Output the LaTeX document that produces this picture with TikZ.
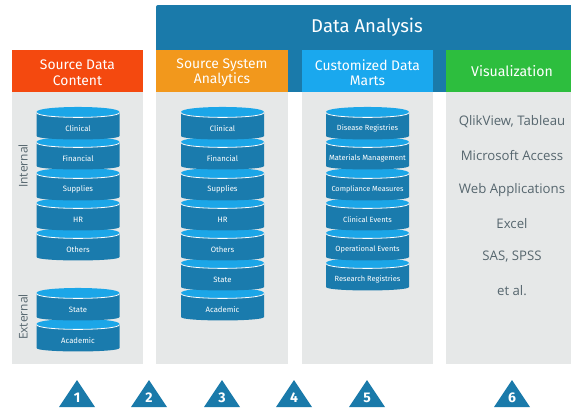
\documentclass[tikz,border=0pt]{standalone}
\usepackage{fontspec}
\setmainfont{Fira Sans}
\newfontfamily\vizfont{Open Sans}
\definecolor{bandblue}{HTML}{1A7AAA}
\definecolor{cylblue}{HTML}{1A7BAD}
\definecolor{cyltop}{HTML}{1BA6E8}
\definecolor{redhead}{HTML}{F4490F}
\definecolor{orangehead}{HTML}{F2981C}
\definecolor{skyhead}{HTML}{1AA8EE}
\definecolor{greenhead}{HTML}{2DBE3E}
\definecolor{panelgray}{HTML}{E6E8E8}
\definecolor{txtgray}{HTML}{56666E}
\tikzset{
  headtext/.style={text=white,font=\fontsize{10.4}{11.6}\selectfont,align=center},
  cyltext/.style={text=white,font=\fontsize{#1}{7}\selectfont},
  vizlabel/.style={text=txtgray,font=\vizfont\fontsize{9.9}{11}\selectfont},
  sidelabel/.style={text=txtgray,font=\vizfont\fontsize{9}{11}\selectfont,rotate=90},
  tri/.style={fill=bandblue},
  trinum/.style={text=white,font=\fontsize{10.5}{12}\selectfont\bfseries}
}
% x centre, label centre y, label, font size
\newcommand{\onecyl}[4]{%
  \fill[cylblue] (#1-41.5,#2-16) -- (#1-41.5,#2+8) .. controls (#1-41.5,#2+12.6) and (#1+41.5,#2+12.6) .. (#1+41.5,#2+8) -- (#1+41.5,#2-16) -- cycle;
  \fill[cyltop] (#1-41.5,#2-16) .. controls (#1-41.5,#2-22.7) and (#1+41.5,#2-22.7) .. (#1+41.5,#2-16) .. controls (#1+41.5,#2-9.3) and (#1-41.5,#2-9.3) .. (#1-41.5,#2-16) -- cycle;
  \draw[white,line width=0.6pt] (#1-41.5,#2-15.5) .. controls (#1-41.5,#2-9) and (#1+41.5,#2-9) .. (#1+41.5,#2-15.5);
  \node[cyltext=#4] (c#1n#2) at (#1,#2+0.6) {#3};
}
\newcommand{\onetri}[2]{%
  \fill[tri] (#1,380) -- (#1+18,407) -- (#1-18,407) -- cycle;
  \node[trinum] (t#2) at (#1,398) {#2};
}
\begin{document}
\begin{tikzpicture}[x=0.75pt,y=-0.75pt]
\useasboundingbox (0,0) rectangle (571,412);
% band
\fill[bandblue,rounded corners=1.5pt] (156,100) -- (156,5) -- (575,5) -- (575,100) -- cycle;
\fill[white] (156,92) rectangle (572,101);
\node[headtext,font=\fontsize{13.9}{15}\selectfont] (da) at (367,27) {Data Analysis};
% panels
\fill[panelgray] (12,92) rectangle (143,364);
\fill[panelgray] (156,92) rectangle (288,364);
\fill[panelgray] (302,92) rectangle (433,364);
\fill[panelgray] (446,92) rectangle (571,364);
% headers
\fill[redhead] (12,50) rectangle (143,92);
\fill[orangehead] (156,50) rectangle (288,92);
\fill[skyhead] (302,50) rectangle (433,92);
\fill[greenhead] (446,50) rectangle (571,92);
\node[headtext] (h1) at (77.5,72.8) {Source Data\\Content};
\node[headtext] (h2) at (222,72.8) {Source System\\Analytics};
\node[headtext] (h3) at (367.5,72.8) {Customized Data\\Marts};
\node[headtext,font=\fontsize{10.6}{12}\selectfont] (h4) at (512,71) {Visualization};
% side labels
\node[sidelabel] (int) at (23,166) {Internal};
\node[sidelabel] (ext) at (23,317) {External};
% column 1
\onecyl{78}{249}{Others}{5.8}
\onecyl{78}{219}{HR}{5.8}
\onecyl{78}{189}{Supplies}{5.8}
\onecyl{78}{158}{Financial}{5.8}
\onecyl{78}{128}{Clinical}{5.8}
\onecyl{78}{340}{Academic}{5.8}
\onecyl{78}{309}{State}{5.8}
% column 3
\onecyl{222.5}{309}{Academic}{5.8}
\onecyl{222.5}{279}{State}{5.8}
\onecyl{222.5}{249}{Others}{5.8}
\onecyl{222.5}{219}{HR}{5.8}
\onecyl{222.5}{189}{Supplies}{5.8}
\onecyl{222.5}{158}{Financial}{5.8}
\onecyl{222.5}{128}{Clinical}{5.8}
% column 5
\onecyl{367.5}{279}{Research Registries}{5.6}
\onecyl{367.5}{249}{Operational Events}{5.6}
\onecyl{367.5}{219}{Clinical Events}{5.6}
\onecyl{367.5}{189}{Compliance Measures}{5.5}
\onecyl{367.5}{158}{Materials Management}{5.6}
\onecyl{367.5}{128}{Disease Registries}{5.6}
% tool list
\node[vizlabel] (v1) at (512,121.6) {QlikView, Tableau};
\node[vizlabel] (v2) at (512,155.6) {Microsoft Access};
\node[vizlabel] (v3) at (512,189.6) {Web Applications};
\node[vizlabel] (v4) at (512,223.6) {Excel};
\node[vizlabel] (v5) at (512,257) {SAS, SPSS};
\node[vizlabel] (v6) at (512,290.6) {et al.};
% triangles
\onetri{77}{1}
\onetri{149}{2}
\onetri{222}{3}
\onetri{294}{4}
\onetri{367}{5}
\onetri{512}{6}
\end{tikzpicture}
\end{document}
